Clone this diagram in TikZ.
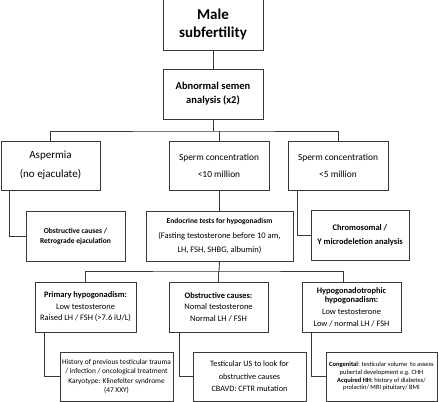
\documentclass[tikz,border=0pt]{standalone}
\usepackage{fontspec}
\setmainfont{Carlito}
\newcommand{\fs}[2]{\fontsize{#1}{#2}\selectfont}
\begin{document}
\begin{tikzpicture}[x=1pt,y=-1pt,
    box/.style={draw=linec,line width=0.9pt,rectangle,inner sep=0pt,align=center,
      minimum height=#1},
    box/.default=50pt,
    link/.style={draw=linec,line width=0.9pt}]
  \colorlet{linec}{black!78}
  \useasboundingbox (0,0) rectangle (440,402);
  \node[box=52pt,minimum width=100pt,font=\fs{15}{18}\bfseries] (male) at (213,24) {Male\\subfertility};
  \node[box,minimum width=100pt,font=\fs{10.5}{14}\bfseries] (semen) at (213,94) {Abnormal semen\\analysis (x2)};
  \node[box=49pt,minimum width=99pt,font=\fs{11}{19}] (asp) at (50.5,165.5) {Aspermia\\(no ejaculate)};
  \node[box=49pt,minimum width=100pt,font=\fs{9.4}{17}] (conc10) at (219,165.5) {Sperm concentration\\<10 million};
  \node[box=49pt,minimum width=100pt,font=\fs{9.4}{17}] (conc5) at (338,165.5) {Sperm concentration\\<5 million};
  \node[box,minimum width=99pt,font=\fs{7.5}{10}\bfseries] (obstr) at (75.5,236) {Obstructive causes /\\Retrograde ejaculation};
  \node[box,minimum width=147pt,font=\fs{8.5}{14.5}] (endo) at (219.5,236) {{\fs{7.5}{14.5}\bfseries Endocrine tests for hypogonadism}\\(Fasting testosterone before 10 am,\\LH, FSH, SHBG, albumin)};
  \node[box,minimum width=98pt,font=\fs{8.5}{14}\bfseries] (chrom) at (360,235) {Chromosomal /\\Y microdeletion analysis};
  \node[box,minimum width=101pt,font=\fs{8.4}{11.5}] (prim) at (85.5,307) {{\fs{8.4}{11.5}\bfseries Primary hypogonadism:}\\Low testosterone\\Raised LH / FSH (>7.6 iU/L)};
  \node[box,minimum width=99pt,font=\fs{8.5}{11.5}] (obsc) at (218.5,307) {{\fs{8.4}{11.5}\bfseries Obstructive causes:}\\Nomal testosterone\\Normal LH / FSH};
  \node[box,minimum width=99pt,font=\fs{8.4}{9.3}] (hypo) at (351.5,307) {\textbf{Hypogonadotrophic}\\\textbf{hypogonadism:}\\[3pt]Low testosterone\\[2pt]Low / normal LH / FSH};
  \node[box=49pt,minimum width=113pt,font=\fs{7.35}{8.6}] (hist) at (116.5,376.5) {History of previous testicular trauma\\/ infection / oncological treatment\\[1.5pt]Karyotype: Klinefelter syndrome\\(47 XXY)};
  \node[box=49pt,minimum width=113pt,font=\fs{8.2}{12.5}] (usound) at (249.5,376.5) {Testicular US to look for\\obstructive causes\\CBAVD: CFTR mutation};
  \node[box=49pt,minimum width=111pt,font=\fs{6.5}{7.7}] (cong) at (381.5,376.5) {\textbf{Congenital}: testicular volume\ \ to assess\\pubertal development e.g. CHH\\\textbf{Acquired HH:} history of diabetes/\\prolactin/ MRI pituitary/ BMI};
  \coordinate (bus1) at (213,131);
  \coordinate (bus2) at (219,271);
  \begin{scope}[link]
    \draw (male) to (semen);
    \draw (semen.south) to (bus1);
    \draw (asp.north) |- (bus1) -| (conc5.north);
    \draw (conc10.north) to (conc10.north |- bus1);
    \draw ([xshift=9pt]asp.south west) |- (obstr.west);
    \draw (conc10.south) to (conc10.south |- endo.north);
    \draw ([xshift=10pt]conc5.south west) |- (chrom.west);
    \draw (endo.south) to (bus2);
    \draw (prim.north) |- (bus2) -| ([xshift=-8pt]hypo.north);
    \draw (obsc.north) to (obsc.north |- bus2);
    \draw ([xshift=10pt]prim.south west) |- (hist.west);
    \draw ([xshift=11pt]obsc.south west) |- (usound.west);
    \draw ([xshift=10pt]hypo.south west) |- (cong.west);
  \end{scope}
\end{tikzpicture}
\end{document}
